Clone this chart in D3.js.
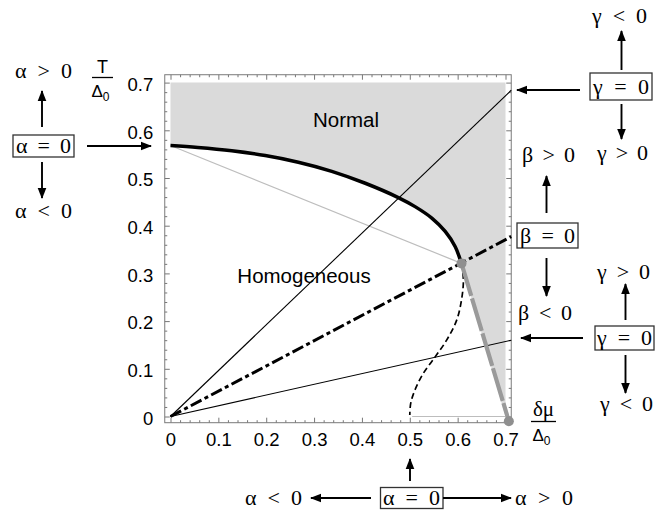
<!DOCTYPE html>
<html>
<head>
<meta charset="utf-8">
<script src="https://cdn.jsdelivr.net/npm/d3@7"></script>
<style>
  body { margin: 0; background: #fff; }
</style>
</head>
<body>
<svg id="chart" width="669" height="514"></svg>
<script>
// ---- data (δμ/Δ0, T/Δ0) ----
const xTickValues = [0, 0.1, 0.2, 0.3, 0.4, 0.5, 0.6, 0.7];
const xTickLabels = ["0", "0.1", "0.2", "0.3", "0.4", "0.5", "0.6", "0.7"];
const yTickValues = [0, 0.1, 0.2, 0.3, 0.4, 0.5, 0.6, 0.7];
const yTickLabels = ["0", "0.1", "0.2", "0.3", "0.4", "0.5", "0.6", "0.7"];
const xFrameDomain = [-0.012, 0.712];
const yFrameDomain = [-0.013, 0.7165];

// second-order normal / superfluid boundary (α = 0)
const normalBoundary = [
  [0.000, 0.568], [0.057, 0.564], [0.128, 0.557], [0.198, 0.547],
  [0.267, 0.533], [0.337, 0.514], [0.407, 0.489], [0.476, 0.459],
  [0.511, 0.440], [0.546, 0.416], [0.574, 0.388], [0.595, 0.356],
  [0.605, 0.330], [0.608, 0.321]
];
// thin dashed curve from the tricritical point down to δμ = Δ0/2
const gaplessBoundary = [
  [0.608, 0.321], [0.612, 0.286], [0.608, 0.244], [0.598, 0.202],
  [0.577, 0.160], [0.553, 0.125], [0.528, 0.090], [0.511, 0.056],
  [0.502, 0.028], [0.500, 0.003]
];
// first-order line from the tricritical point to the Clogston point
const firstOrderLine = [[0.608, 0.321], [0.707, -0.010]];
const chordLine = [[0.000, 0.568], [0.608, 0.321]];
const zeroTLine = [[0.505, 0.000], [0.700, 0.000]];
// straight lines through the origin
const gammaSteepLine = [[0, 0], [0.712, 0.684]];
const betaLine = [[0, 0], [0.712, 0.377]];
const gammaShallowLine = [[0, 0], [0.712, 0.160]];
const tricriticalPoint = [0.608, 0.321];
const clogstonPoint = [0.707, -0.010];
// corners of the shaded normal region (before following the boundaries)
const normalCorners = [[0.000, 0.700], [0.700, 0.700], [0.700, 0.000]];

// ---- scales ----
const x = d3.scaleLinear().domain([0, 0.7]).range([170.5, 505.5]);
const y = d3.scaleLinear().domain([0, 0.7]).range([416.5, 82.6]);

const svg = d3.select("#chart");
const line = d3.line().x(d => x(d[0])).y(d => y(d[1]));
const curve = d3.line().x(d => x(d[0])).y(d => y(d[1])).curve(d3.curveCatmullRom.alpha(0.5));

// arrowhead marker
svg.append("defs").append("marker")
  .attr("id", "head")
  .attr("markerUnits", "userSpaceOnUse")
  .attr("viewBox", "0 -5 11 10")
  .attr("refX", 10).attr("refY", 0)
  .attr("markerWidth", 11).attr("markerHeight", 10)
  .attr("orient", "auto")
  .append("path").attr("d", "M0,-4.3L11,0L0,4.3Z").attr("fill", "#000");

// ---- shaded normal region ----
const regionPath = d3.path();
{
  const pts = normalCorners.concat([firstOrderLine[0]]);
  regionPath.moveTo(x(pts[0][0]), y(pts[0][1]));
  pts.slice(1).forEach(p => regionPath.lineTo(x(p[0]), y(p[1])));
}
const boundaryRev = normalBoundary.slice().reverse();
svg.append("path")
  .attr("d", regionPath.toString() + curve(boundaryRev).replace(/^M/, "L") + "Z")
  .attr("fill", "#dadada");

// ---- frame and ticks ----
const frameLeft = x(xFrameDomain[0]), frameRight = x(xFrameDomain[1]);
const frameTop = y(yFrameDomain[1]), frameBottom = y(yFrameDomain[0]);

const minorX = d3.range(0, 0.701, 0.02).filter(v => Math.abs(v * 10 - Math.round(v * 10)) > 1e-6);
const minorY = minorX.slice();

function styleAxis(g) {
  g.select(".domain").remove();
  g.selectAll(".tick line").attr("stroke", "#777").attr("stroke-width", 1);
  g.selectAll(".tick text")
    .attr("fill", "#000")
    .style("font-family", "'Liberation Sans', Arial, sans-serif")
    .style("font-size", "18.5px");
}

svg.append("g").attr("transform", `translate(0,${frameBottom})`)
  .call(d3.axisBottom(x).tickValues(xTickValues).tickFormat((d, i) => xTickLabels[i])
    .tickSizeInner(-5).tickSizeOuter(0).tickPadding(10))
  .call(styleAxis);
svg.append("g").attr("transform", `translate(0,${frameBottom})`)
  .call(d3.axisBottom(x).tickValues(minorX).tickFormat("").tickSizeInner(-2.5).tickSizeOuter(0))
  .call(styleAxis);
svg.append("g").attr("transform", `translate(0,${frameTop})`)
  .call(d3.axisTop(x).tickValues(xTickValues).tickFormat("").tickSizeInner(-5).tickSizeOuter(0))
  .call(styleAxis);
svg.append("g").attr("transform", `translate(0,${frameTop})`)
  .call(d3.axisTop(x).tickValues(minorX).tickFormat("").tickSizeInner(-2.5).tickSizeOuter(0))
  .call(styleAxis);

svg.append("g").attr("transform", `translate(${frameLeft},0)`)
  .call(d3.axisLeft(y).tickValues(yTickValues).tickFormat((d, i) => yTickLabels[i])
    .tickSizeInner(-5).tickSizeOuter(0).tickPadding(11.5))
  .call(styleAxis)
  .call(g => g.selectAll(".tick text").attr("dy", "0.42em"));
svg.append("g").attr("transform", `translate(${frameLeft},0)`)
  .call(d3.axisLeft(y).tickValues(minorY).tickFormat("").tickSizeInner(-2.5).tickSizeOuter(0))
  .call(styleAxis);
svg.append("g").attr("transform", `translate(${frameRight},0)`)
  .call(d3.axisRight(y).tickValues(yTickValues).tickFormat("").tickSizeInner(-5).tickSizeOuter(0))
  .call(styleAxis);
svg.append("g").attr("transform", `translate(${frameRight},0)`)
  .call(d3.axisRight(y).tickValues(minorY).tickFormat("").tickSizeInner(-2.5).tickSizeOuter(0))
  .call(styleAxis);

svg.append("rect")
  .attr("x", frameLeft).attr("y", frameTop)
  .attr("width", frameRight - frameLeft).attr("height", frameBottom - frameTop)
  .attr("fill", "none").attr("stroke", "#7a7a7a").attr("stroke-width", 1);

// ---- lines ----
svg.append("path").attr("d", line(zeroTLine))
  .attr("fill", "none").attr("stroke", "#bdbdbd").attr("stroke-width", 1.2);
svg.append("path").attr("d", line(chordLine))
  .attr("fill", "none").attr("stroke", "#bdbdbd").attr("stroke-width", 1.2);
svg.append("path").attr("d", line(gammaSteepLine))
  .attr("fill", "none").attr("stroke", "#000").attr("stroke-width", 1.1);
svg.append("path").attr("d", line(gammaShallowLine))
  .attr("fill", "none").attr("stroke", "#000").attr("stroke-width", 1.1);
svg.append("path").attr("d", line(betaLine))
  .attr("fill", "none").attr("stroke", "#000").attr("stroke-width", 3)
  .attr("stroke-dasharray", "12,3.5,4,3.5");
svg.append("path").attr("d", curve(gaplessBoundary))
  .attr("fill", "none").attr("stroke", "#000").attr("stroke-width", 1.7)
  .attr("stroke-dasharray", "6,3.5");
svg.append("path").attr("d", line(firstOrderLine))
  .attr("fill", "none").attr("stroke", "#9a9a9a").attr("stroke-width", 4.2)
  .attr("stroke-dasharray", "34,2.5");
svg.append("path").attr("d", curve(normalBoundary))
  .attr("fill", "none").attr("stroke", "#000").attr("stroke-width", 3.5);

svg.append("circle").attr("cx", x(tricriticalPoint[0])).attr("cy", y(tricriticalPoint[1]))
  .attr("r", 5).attr("fill", "#8f8f8f");
svg.append("circle").attr("cx", x(clogstonPoint[0])).attr("cy", y(clogstonPoint[1]))
  .attr("r", 5).attr("fill", "#8f8f8f");

// ---- region names ----
const sans = "'Liberation Sans', Arial, sans-serif";
const serif = "'Liberation Serif', 'Times New Roman', serif";
svg.append("text").attr("x", 346).attr("y", 127).attr("text-anchor", "middle")
  .style("font-family", sans).style("font-size", "20.5px").text("Normal");
svg.append("text").attr("x", 304).attr("y", 283).attr("text-anchor", "middle")
  .style("font-family", sans).style("font-size", "20.5px").text("Homogeneous");

// ---- axis titles (fractions) ----
function fraction(cx, topBaseline, barY, barHalf, numerator, numFont, numSize) {
  svg.append("text").attr("x", cx).attr("y", topBaseline).attr("text-anchor", "middle")
    .style("font-family", numFont).style("font-size", numSize).text(numerator);
  svg.append("line").attr("x1", cx - barHalf).attr("x2", cx + barHalf)
    .attr("y1", barY).attr("y2", barY).attr("stroke", "#000").attr("stroke-width", 1.3);
  const den = svg.append("text").attr("x", cx - 2).attr("y", barY + 19.5).attr("text-anchor", "middle")
    .style("font-family", sans).style("font-size", "17px");
  den.append("tspan").text("Δ");
  den.append("tspan").attr("dy", 4).style("font-size", "12px").text("0");
}
fraction(102.5, 73, 77.5, 10.5, "T", sans, "18px");
fraction(543.5, 416, 421.5, 12.5, "δμ", serif, "21px");

// ---- sign annotations ----
function rel(str, left, baseline, width) {
  svg.append("text").attr("x", left).attr("y", baseline)
    .attr("textLength", width).attr("lengthAdjust", "spacing")
    .style("font-family", serif).style("font-size", "22px")
    .text(str);
}
function box(x0, y0, w, h) {
  svg.append("rect").attr("x", x0).attr("y", y0).attr("width", w).attr("height", h)
    .attr("fill", "#fff").attr("stroke", "#333").attr("stroke-width", 1.3);
}
function arrow(x1, y1, x2, y2) {
  svg.append("line").attr("x1", x1).attr("y1", y1).attr("x2", x2).attr("y2", y2)
    .attr("stroke", "#000").attr("stroke-width", 1.9).attr("marker-end", "url(#head)");
}

// α on the T axis
rel("α > 0", 15, 78, 57);
arrow(42, 127, 42, 91);
box(13, 135, 61, 22); rel("α = 0", 16, 153, 55);
arrow(87, 146, 151, 146);
arrow(42, 162, 42, 198);
rel("α < 0", 15, 218, 57);

// γ, upper line
rel("γ < 0", 592, 23, 55);
arrow(621.5, 70, 621.5, 31);
box(590, 73, 62, 27); rel("γ = 0", 593, 94, 56);
arrow(580, 90, 517, 90);
arrow(621.5, 104, 621.5, 139);
rel("γ > 0", 597, 160, 51);

// β
rel("β > 0", 522, 162, 53);
arrow(546.5, 213, 546.5, 176);
box(517, 223, 61, 25); rel("β = 0", 520, 243, 55);
arrow(546.5, 258, 546.5, 296);
rel("β < 0", 518, 320, 54);

// γ, lower line
rel("γ > 0", 597, 279, 53);
arrow(625.5, 320, 625.5, 284);
box(595, 326, 59, 24); rel("γ = 0", 597, 345, 55);
arrow(583, 338, 521, 338);
arrow(625.5, 355, 625.5, 393);
rel("γ < 0", 600, 411, 53);

// α on the δμ axis
arrow(410, 481, 410, 459);
box(380.5, 487.5, 62.5, 21); rel("α = 0", 383, 505, 57);
arrow(371, 498, 311, 498);
rel("α < 0", 245, 505, 57);
arrow(443, 498, 511, 498);
rel("α > 0", 515, 505, 58);
</script>
</body>
</html>
